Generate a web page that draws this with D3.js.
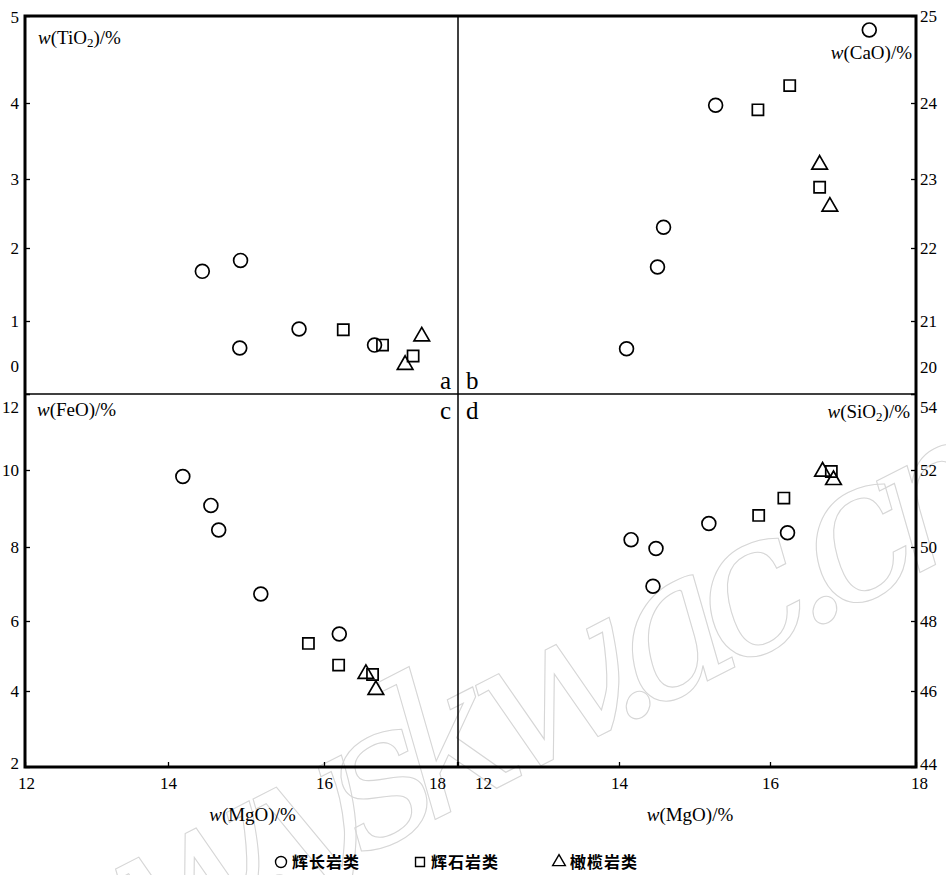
<!DOCTYPE html>
<html><head><meta charset="utf-8">
<script src="https://cdn.jsdelivr.net/npm/d3@7"></script>
<style>body{margin:0;background:#fff}</style>
</head><body>
<svg id="chart" width="946" height="875"></svg>
<script>
// Rock groups shown in the legend
const rockTypes = ["辉长岩类", "辉石岩类", "橄榄岩类"];

// Panel a: MgO vs TiO2 (wt%)
const tiGabbro = [[14.44, 1.68], [14.93, 1.83], [14.92, 0.63], [15.68, 0.89], [16.76, 0.67]];
const tiPyroxenite = [[16.29, 0.88], [16.88, 0.67], [17.34, 0.52]];
const tiPeridotite = [[17.47, 0.79], [17.22, 0.40]];

// Panel b: MgO vs CaO (wt%)
const caGabbro = [[17.36, 24.84], [15.28, 23.97], [14.59, 22.30], [14.51, 21.74], [14.10, 20.62]];
const caPyroxenite = [[16.27, 24.20], [15.84, 23.91], [16.68, 22.88]];
const caPeridotite = [[16.68, 23.19], [16.82, 22.60]];

// Panel c: MgO vs FeO (wt%)
const feGabbro = [[14.19, 9.83], [14.55, 9.08], [14.65, 8.44], [15.19, 6.73], [16.23, 5.63]];
const fePyroxenite = [[15.80, 5.36], [16.22, 4.74], [16.73, 4.47]];
const fePeridotite = [[16.63, 4.49], [16.78, 4.03]];

// Panel d: MgO vs SiO2 (wt%)
const siGabbro = [[14.16, 50.19], [14.49, 49.96], [14.45, 48.94], [15.19, 50.61], [16.24, 50.37]];
const siPyroxenite = [[15.85, 50.82], [16.19, 51.27], [16.84, 51.96]];
const siPeridotite = [[16.72, 51.96], [16.87, 51.74]];

// Axis tick values
const mgoTicks = [12, 14, 16, 18];
const tiTicks = [0, 1, 2, 3, 4, 5];
const caTicks = [20, 21, 22, 23, 24, 25];
const feTicks = [2, 4, 6, 8, 10, 12];
const siTicks = [44, 46, 48, 50, 52, 54];

// ---- layout ----
const L = 25, R = 916, T = 16, B = 767, MX = 458, MY = 394;
const serif = "'Liberation Serif','Times New Roman',serif";
const cjk = "'Noto Sans CJK SC','Noto Sans',sans-serif";

// The printed axes are not evenly spaced, so each scale follows the
// tick positions of the drawn frame (piecewise linear).
const xLeft = d3.scaleLinear().domain(mgoTicks).range([L, 168, 324, MX - 1]);
const xRight = d3.scaleLinear().domain(mgoTicks).range([MX, 619, 770, R]);
const topStops = [MY, 321, 248, 179, 103, T];
const botStops = [B, 691, 621, 547, 470, MY];
const yTi = d3.scaleLinear().domain(tiTicks).range(topStops);
const yCa = d3.scaleLinear().domain(caTicks).range(topStops);
const yFe = d3.scaleLinear().domain(feTicks).range(botStops);
const ySi = d3.scaleLinear().domain(siTicks).range(botStops);

const svg = d3.select("#chart");

// faint diagonal site mark behind everything
svg.append("text")
  .attr("transform", "translate(150,965) rotate(-27)")
  .attr("font-family", "'DejaVu Serif',serif")
  .attr("font-style", "italic")
  .attr("font-size", 195)
  .attr("letter-spacing", -26)
  .attr("fill", "none")
  .attr("stroke", "#d6d6d6")
  .attr("stroke-width", 1.1)
  .text("w.yskw.ac.cn");

// ---- axes ----
function styleAxis(g) {
  g.select(".domain").remove();
  g.selectAll(".tick line").attr("stroke", "#000").attr("stroke-width", 1.3);
  g.selectAll(".tick text").attr("font-family", serif).attr("font-size", 17).attr("fill", "#000");
}
function shiftLabel(g, value, dx, dy) {
  g.selectAll(".tick text").filter(d => d === value).attr("transform", `translate(${dx},${dy})`);
}
const fmt = d3.format("d");

const axA = svg.append("g").attr("transform", `translate(${L},0)`)
  .call(d3.axisLeft(yTi).tickValues(tiTicks).tickSizeInner(-5).tickSizeOuter(0).tickPadding(6).tickFormat(fmt));
styleAxis(axA); shiftLabel(axA, 0, 0, -28); shiftLabel(axA, 5, 0, 1);

const axB = svg.append("g").attr("transform", `translate(${R},0)`)
  .call(d3.axisRight(yCa).tickValues(caTicks).tickSizeInner(-5).tickSizeOuter(0).tickPadding(4).tickFormat(fmt));
styleAxis(axB); shiftLabel(axB, 20, 0, -27); shiftLabel(axB, 25, 0, 0);

const axC = svg.append("g").attr("transform", `translate(${L},0)`)
  .call(d3.axisLeft(yFe).tickValues(feTicks).tickSizeInner(-5).tickSizeOuter(0).tickPadding(6).tickFormat(fmt));
styleAxis(axC); shiftLabel(axC, 12, 0, 13); shiftLabel(axC, 2, 0, -4);

const axD = svg.append("g").attr("transform", `translate(${R},0)`)
  .call(d3.axisRight(ySi).tickValues(siTicks).tickSizeInner(-5).tickSizeOuter(0).tickPadding(4).tickFormat(fmt));
styleAxis(axD); shiftLabel(axD, 54, 0, 13); shiftLabel(axD, 44, 0, -3);

const axXL = svg.append("g").attr("transform", `translate(0,${B})`)
  .call(d3.axisBottom(xLeft).tickValues(mgoTicks).tickSizeInner(-5).tickSizeOuter(0).tickPadding(10).tickFormat(fmt));
styleAxis(axXL); shiftLabel(axXL, 12, 1, 0); shiftLabel(axXL, 18, -20, 0);

const axXR = svg.append("g").attr("transform", `translate(0,${B})`)
  .call(d3.axisBottom(xRight).tickValues(mgoTicks).tickSizeInner(-5).tickSizeOuter(0).tickPadding(10).tickFormat(fmt));
styleAxis(axXR); shiftLabel(axXR, 12, 25, 0); shiftLabel(axXR, 18, 3, 0);

// ---- frame and quadrant dividers ----
svg.append("line").attr("x1", MX).attr("x2", MX).attr("y1", T).attr("y2", B)
  .attr("stroke", "#000").attr("stroke-width", 1.5);
svg.append("line").attr("x1", L).attr("x2", R).attr("y1", MY).attr("y2", MY)
  .attr("stroke", "#000").attr("stroke-width", 1.5);
svg.append("rect").attr("x", L).attr("y", T).attr("width", R - L).attr("height", B - T)
  .attr("fill", "none").attr("stroke", "#000").attr("stroke-width", 3);

// ---- titles with italic w and subscripts ----
function formula(x, y, anchor, parts) {
  const t = svg.append("text").attr("x", x).attr("y", y).attr("text-anchor", anchor)
    .attr("font-family", serif).attr("font-size", 19).attr("fill", "#000");
  t.append("tspan").attr("font-style", "italic").text("w");
  parts.forEach(p => {
    if (typeof p === "object") {
      t.append("tspan").attr("baseline-shift", "-25%").attr("font-size", 13).text(p.subscript);
    } else {
      t.append("tspan").text(p);
    }
  });
  return t;
}
formula(38, 44, "start", ["(TiO", { subscript: "2" }, ")/%"]);
formula(912, 59, "end", ["(CaO)/%"]);
formula(37, 416, "start", ["(FeO)/%"]);
formula(910, 418, "end", ["(SiO", { subscript: "2" }, ")/%"]);
formula((L + MX) / 2 + 11, 821, "middle", ["(MgO)/%"]);
formula((MX + R) / 2 + 3, 821, "middle", ["(MgO)/%"]);

// panel letters
[["a", MX - 7, 389, "end"], ["b", MX + 8, 389, "start"],
 ["c", MX - 7, 419, "end"], ["d", MX + 8, 419, "start"]].forEach(([s, x, y, a]) => {
  svg.append("text").attr("x", x).attr("y", y).attr("text-anchor", a)
    .attr("font-family", serif).attr("font-size", 25).text(s);
});

// ---- markers ----
const sym = [d3.symbolCircle, d3.symbolSquare, d3.symbolTriangle];
const symSize = [150, 125, 105];
function plot(series, xs, ys) {
  series.forEach((pts, k) => {
    svg.append("g").selectAll("path").data(pts).join("path")
      .attr("d", d3.symbol(sym[k], symSize[k]))
      .attr("transform", d => `translate(${xs(d[0])},${ys(d[1])})`)
      .attr("fill", "none").attr("stroke", "#000").attr("stroke-width", 1.7);
  });
}
plot([tiGabbro, tiPyroxenite, tiPeridotite], xLeft, yTi);
plot([caGabbro, caPyroxenite, caPeridotite], xRight, yCa);
plot([feGabbro, fePyroxenite, fePeridotite], xLeft, yFe);
plot([siGabbro, siPyroxenite, siPeridotite], xRight, ySi);

// ---- legend ----
const legX = d3.scalePoint().domain(rockTypes).range([281, 559]);
const leg = svg.append("g").selectAll("g").data(rockTypes).join("g")
  .attr("transform", d => `translate(${legX(d)},862)`);
leg.append("path")
  .attr("d", (d, i) => d3.symbol(sym[i], [95, 80, 70][i])())
  .attr("fill", "none").attr("stroke", "#000").attr("stroke-width", 1.4);
leg.append("text").attr("x", 11).attr("y", 6)
  .attr("font-family", cjk).attr("font-weight", 700).attr("font-size", 16)
  .attr("letter-spacing", 1).text(d => d);
</script></body></html>
